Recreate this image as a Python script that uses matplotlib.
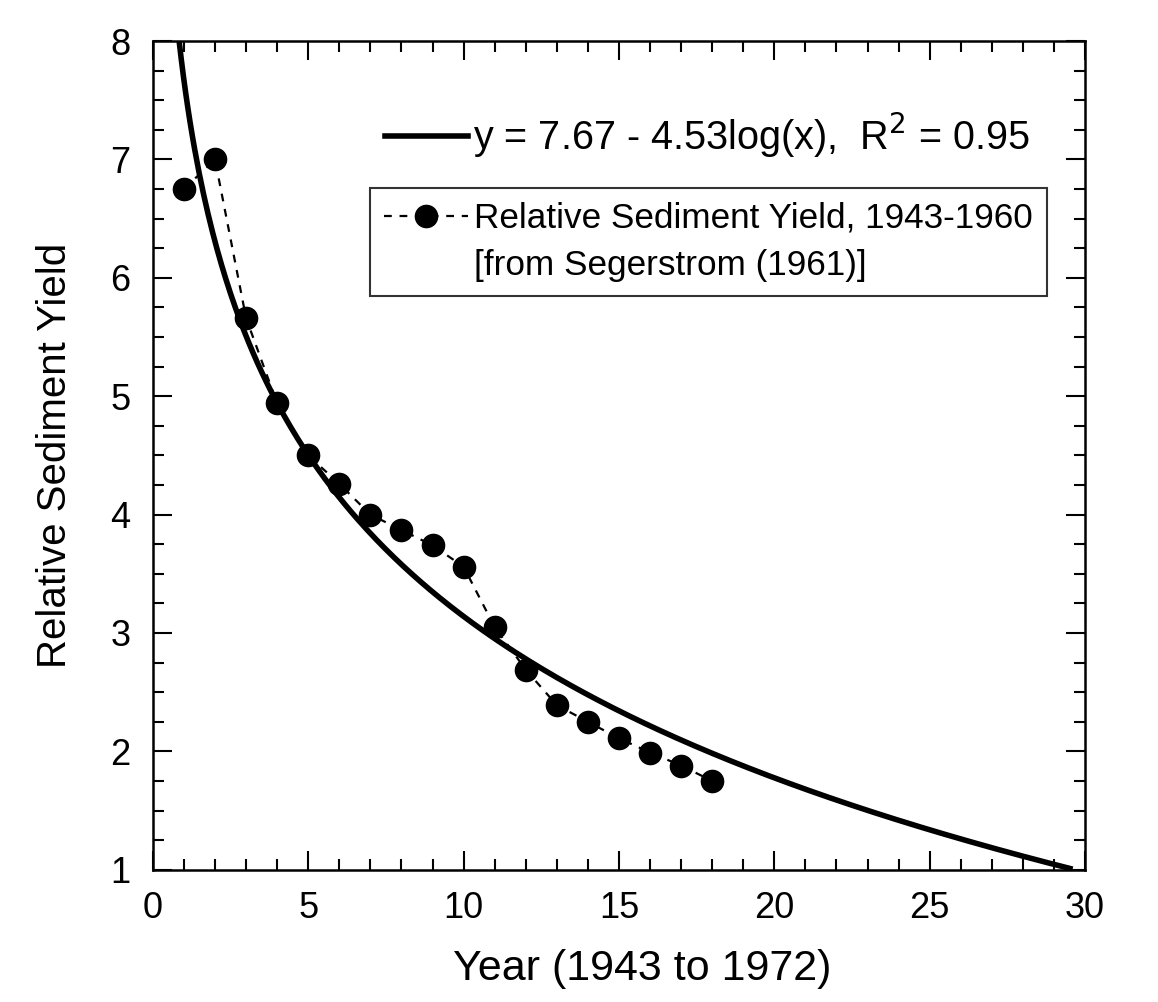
import numpy as np
import matplotlib
matplotlib.use("Agg")
import matplotlib.pyplot as plt
from matplotlib.lines import Line2D
from matplotlib.ticker import MultipleLocator

plt.rcParams['font.family'] = ['Liberation Sans', 'DejaVu Sans']

# Data
years = [1, 2, 3, 4, 5, 6, 7, 8, 9, 10, 11, 12, 13, 14, 15, 16, 17, 18]
yield_vals = [6.75, 7.00, 5.66, 4.94, 4.50, 4.26, 4.00, 3.87, 3.74, 3.56,
              3.05, 2.69, 2.39, 2.25, 2.11, 1.99, 1.88, 1.75]
fit_a = 7.67
fit_b = 4.53
fit_xmin, fit_xmax = 0.84, 29.6

fig = plt.figure(figsize=(11.58, 10.02), dpi=100)
ax = fig.add_axes([0.132, 0.132, 0.805, 0.827])

xf = np.linspace(fit_xmin, fit_xmax, 400)
yf = fit_a - fit_b * np.log10(xf)
ax.plot(xf, yf, color='black', lw=4.0, solid_capstyle='butt')

dash = (0, (3.5, 3.5))
ax.plot(years, yield_vals, color='black', ls=dash, lw=1.6,
        marker='o', markersize=16)

ax.set_xlim(0, 30)
ax.set_ylim(1, 8)
ax.xaxis.set_major_locator(MultipleLocator(5))
ax.xaxis.set_minor_locator(MultipleLocator(1))
ax.yaxis.set_major_locator(MultipleLocator(1))
ax.yaxis.set_minor_locator(MultipleLocator(0.25))
ax.tick_params(which='both', direction='in', top=True, right=True,
               width=1.5, labelsize=26)
ax.tick_params(which='major', length=14)
ax.tick_params(which='minor', length=8)
ax.tick_params(axis='x', which='major', pad=15)
ax.tick_params(axis='y', which='major', pad=16)
for s in ax.spines.values():
    s.set_linewidth(1.8)

ax.set_xlabel('Year (1943 to 1972)', fontsize=31, labelpad=17)
ax.xaxis.label.set_x(0.525)
ax.set_ylabel('Relative Sediment Yield', fontsize=29, labelpad=26)

h1 = Line2D([], [], color='black', lw=4.0)
leg1 = ax.legend([h1], [r'y = 7.67 - 4.53log(x),  R$^2$ = 0.95'],
                 loc='upper left', bbox_to_anchor=(0.232, 0.935),
                 frameon=False, fontsize=28.5, handlelength=2.1,
                 handletextpad=0.12, borderaxespad=0)
ax.add_artist(leg1)
h2 = Line2D([], [], color='black', ls=dash, lw=1.6, marker='o',
            markersize=16)
h_blank = Line2D([], [], color='none')
leg2 = ax.legend([h2, h_blank],
                 ['Relative Sediment Yield, 1943-1960',
                  '[from Segerstrom (1961)]'],
                 loc='upper left', bbox_to_anchor=(0.233, 0.823),
                 frameon=True, fontsize=25.3, handlelength=2.4,
                 handletextpad=0.15, borderaxespad=0, fancybox=False,
                 edgecolor='black', borderpad=0.4, labelspacing=0.4)
leg2.get_frame().set_linewidth(1.5)

fig.savefig('out.png', dpi=100)
